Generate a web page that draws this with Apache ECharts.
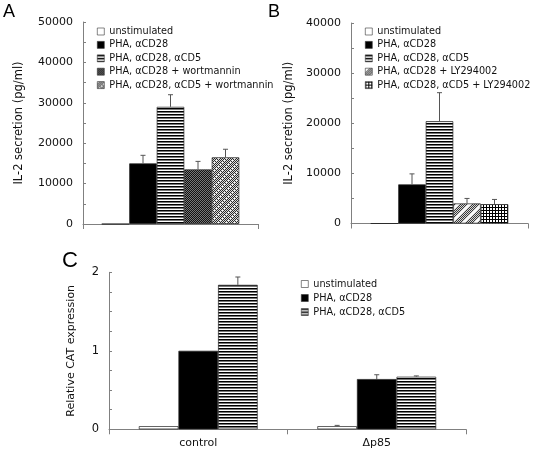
<!DOCTYPE html>
<html>
<head>
<meta charset="utf-8">
<script src="https://cdn.jsdelivr.net/npm/echarts@6/dist/echarts.min.js"></script>
<style>
html,body{margin:0;padding:0;background:#fff;}
#c{width:535px;height:451px;}
</style>
</head>
<body>
<div id="c"></div>
<script>
// ---------- data ----------
const namesA = ['unstimulated', 'PHA, αCD28', 'PHA, αCD28, αCD5', 'PHA, αCD28 + wortmannin', 'PHA, αCD28, αCD5 + wortmannin'];
const valuesA = [0, 15000, 29000, 13500, 16500];
const errorsA = [0, 2000, 3000, 2000, 2000];

const namesB = ['unstimulated', 'PHA, αCD28', 'PHA, αCD28, αCD5', 'PHA, αCD28 + LY294002', 'PHA, αCD28, αCD5 + LY294002'];
const valuesB = [0, 7800, 20400, 4000, 3850];
const errorsB = [0, 2100, 5700, 1000, 950];

const categoriesC = ['control', 'Δp85'];
const namesC = ['unstimulated', 'PHA, αCD28', 'PHA, αCD28, αCD5'];
const valuesC = [[0.04, 0.04], [1.0, 0.64], [1.84, 0.67]];
const errorsC = [[0, 0.01], [0, 0.055], [0.10, 0.01]];

// ---------- patterns ----------
function pat(w, h, draw) {
  const c = document.createElement('canvas');
  c.width = w; c.height = h;
  const ctx = c.getContext('2d');
  ctx.fillStyle = '#fff'; ctx.fillRect(0, 0, w, h);
  draw(ctx, w, h);
  return { image: c, repeat: 'repeat' };
}
const white = '#ffffff';
const black = '#000000';
const hstripe = pat(4, 3, (x) => { x.fillStyle = '#000'; x.fillRect(0, 0, 4, 1); x.fillStyle = '#777'; x.fillRect(0, 1, 4, 1); });
const darkCheck = pat(2, 2, (x) => { x.fillStyle = '#111'; x.fillRect(0, 0, 2, 2); x.fillStyle = '#777'; x.fillRect(0, 0, 1, 1); x.fillRect(1, 1, 1, 1); });
const lightCheck = pat(8, 8, (x) => {
  for (let i = 0; i < 8; i++) for (let j = 0; j < 8; j++) {
    const d = (i + j) % 8;
    let col = ((i + j) % 2 === 0) ? '#2a2a2a' : '#dcdcdc';
    if (d === 0 && (i % 2 === 0)) col = '#f5f5f5';
    x.fillStyle = col; x.fillRect(i, j, 1, 1);
  }
});
const diagCheck = pat(12, 12, (x) => {
  for (let i = 0; i < 12; i++) for (let j = 0; j < 12; j++) {
    let col = ((i + j) % 2 === 0) ? '#3a3a3a' : '#d8d8d8';
    const d = (i + j) % 12;
    if (d < 3) col = '#fafafa';
    x.fillStyle = col; x.fillRect(i, j, 1, 1);
  }
});
const gridCheck = pat(3, 3, (x) => { x.fillStyle = '#000'; x.fillRect(0, 0, 3, 1); x.fillRect(0, 0, 1, 3); });

const fillsA = [white, black, hstripe, darkCheck, lightCheck];
const fillsB = [white, black, hstripe, diagCheck, gridCheck];
const fillsC = [white, black, hstripe];

// ---------- layout ----------
const FONT = 'DejaVu Sans';
const TXT = '#111';
const AX = '#808080';
const bwAB = 27.5, bwC = 39.6;

function yAxis(gi, max, interval, minorSplit, name, nameGap, nameSize, labelSize) {
  return {
    type: 'value', gridIndex: gi, min: 0, max: max, interval: interval,
    name: name, nameLocation: 'middle', nameGap: nameGap,
    nameTextStyle: { fontFamily: FONT, fontSize: nameSize, color: TXT },
    axisLine: { show: true, lineStyle: { color: AX, width: 1 } },
    axisTick: { show: true, inside: true, length: 3, lineStyle: { color: AX } },
    minorTick: { show: true, splitNumber: minorSplit, length: 3, lineStyle: { color: AX } },
    splitLine: { show: false },
    axisLabel: { fontFamily: FONT, fontSize: labelSize, color: TXT, margin: 10, formatter: (v) => String(v) }
  };
}
function xAxis(gi, data, showLabel) {
  return {
    type: 'category', gridIndex: gi, data: data, boundaryGap: true,
    axisLine: { show: true, lineStyle: { color: AX, width: 1 } },
    axisTick: { show: true, length: 5, lineStyle: { color: AX } },
    axisLabel: { show: showLabel, fontFamily: FONT, fontSize: 11, color: TXT, margin: 8 },
    splitLine: { show: false }
  };
}
function barSeries(gi, name, fill, data, bw) {
  return {
    type: 'bar', name: name, xAxisIndex: gi, yAxisIndex: gi, data: data,
    barWidth: bw, barGap: '0%', animation: false,
    itemStyle: { color: fill, borderColor: '#222', borderWidth: 0.7 }
  };
}
function errSeries(gi, items, n, bw) {
  return {
    type: 'custom', xAxisIndex: gi, yAxisIndex: gi, silent: true, z: 5, animation: false,
    data: items,
    renderItem: function (params, api) {
      const c = api.value(0), v = api.value(1), e = api.value(2), k = api.value(3);
      if (!e) return null;
      const p0 = api.coord([c, v]);
      const p1 = api.coord([c, v + e]);
      const x = p0[0] + (k - (n - 1) / 2) * bw;
      const st = { stroke: '#555', lineWidth: 1 };
      return {
        type: 'group', children: [
          { type: 'line', shape: { x1: x, y1: p0[1], x2: x, y2: p1[1] }, style: st },
          { type: 'line', shape: { x1: x - 2.5, y1: p1[1], x2: x + 2.5, y2: p1[1] }, style: st }
        ]
      };
    }
  };
}
function legend(names, left, top, gap) {
  return {
    data: names, orient: 'vertical', left: left, top: top, icon: 'rect',
    itemWidth: 7, itemHeight: 7, itemGap: gap, selectedMode: false,
    itemStyle: { borderWidth: 0.6, borderColor: '#333' },
    textStyle: { fontFamily: FONT, fontSize: 9.7, color: TXT, lineHeight: 12 }
  };
}

const series = [];
namesA.forEach((n, i) => series.push(barSeries(0, n, fillsA[i], [valuesA[i]], bwAB)));
series.push(errSeries(0, valuesA.map((v, i) => [0, v, errorsA[i], i]), namesA.length, bwAB));
namesB.forEach((n, i) => series.push(barSeries(1, n, fillsB[i], [valuesB[i]], bwAB)));
series.push(errSeries(1, valuesB.map((v, i) => [0, v, errorsB[i], i]), namesB.length, bwAB));
namesC.forEach((n, i) => series.push(barSeries(2, n, fillsC[i], valuesC[i], bwC)));
const errItemsC = [];
namesC.forEach((n, i) => categoriesC.forEach((c, j) => errItemsC.push([j, valuesC[i][j], errorsC[i][j], i])));
series.push(errSeries(2, errItemsC, namesC.length, bwC));

const chart = echarts.init(document.getElementById('c'), null, { renderer: 'canvas' });
chart.setOption({
  animation: false,
  backgroundColor: '#fff',
  grid: [
    { left: 83, top: 22, width: 175, height: 202 },
    { left: 351, top: 23, width: 177, height: 200.5 },
    { left: 109, top: 272.3, width: 357, height: 157 }
  ],
  xAxis: [xAxis(0, [''], false), xAxis(1, [''], false), xAxis(2, categoriesC, true)],
  yAxis: [
    yAxis(0, 50000, 10000, 2, 'IL-2 secretion (pg/ml)', 58, 11.5, 11),
    yAxis(1, 40000, 10000, 2, 'IL-2 secretion (pg/ml)', 56, 11.5, 11),
    yAxis(2, 2, 1, 4, 'Relative CAT expression', 32, 11, 11.5)
  ],
  legend: [
    legend(namesA, 92, 20.5, 1.4),
    legend(namesB, 360, 20.5, 1.4),
    legend(namesC, 296, 273, 2)
  ],
  graphic: [
    { type: 'text', left: 3, top: 3, style: { text: 'A', font: '18px "Liberation Sans"', fill: '#000' } },
    { type: 'text', left: 268, top: 3, style: { text: 'B', font: '18px "Liberation Sans"', fill: '#000' } },
    { type: 'text', left: 62, top: 250, style: { text: 'C', font: '22px "Liberation Sans"', fill: '#000' } }
  ],
  series: series
});
</script>
</body>
</html>
